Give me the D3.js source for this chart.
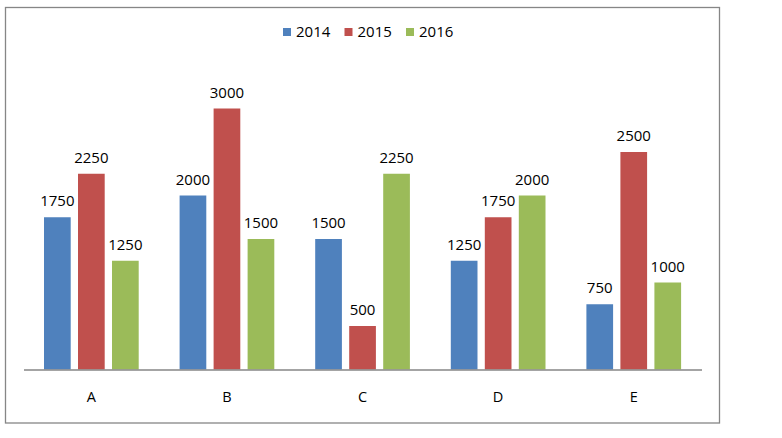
<!DOCTYPE html>
<html>
<head>
<meta charset="utf-8">
<script src="https://cdn.jsdelivr.net/npm/d3@7"></script>
<style>
  html, body { margin: 0; padding: 0; background: #fff; }
  svg { display: block; font-family: "Open Sans", "Liberation Sans", sans-serif; }
</style>
</head>
<body>
<svg id="chart" width="782" height="438"></svg>
<script>
const categories = ["A", "B", "C", "D", "E"];
const series = ["2014", "2015", "2016"];
const values2014 = [1750, 2000, 1500, 1250, 750];
const values2015 = [2250, 3000, 500, 1750, 2500];
const values2016 = [1250, 1500, 2250, 2000, 1000];
const colors = ["#4f81bd", "#c0504d", "#9bbb59"];

const seriesValues = [values2014, values2015, values2016];
const rows = categories.map((c, i) => ({
  cat: c,
  vals: series.map((s, j) => ({ key: s, value: seriesValues[j][i], color: colors[j] })),
}));

const svg = d3.select("#chart");

// outer frame
svg.append("rect")
  .attr("x", 5.5).attr("y", 7.5)
  .attr("width", 714).attr("height", 415.5)
  .attr("fill", "none")
  .attr("stroke", "#868686")
  .attr("stroke-width", 1.3);

const x0 = d3.scaleBand().domain(categories).range([23.5, 701.5]).padding(0);
const x1 = d3.scaleBand().domain(series).range([20.5, 115.2]).paddingInner(0.215).paddingOuter(0);
const y = d3.scaleLinear().domain([0, 3000]).range([369.5, 108.5]);

const groups = svg.append("g")
  .selectAll("g")
  .data(rows)
  .join("g")
  .attr("transform", d => `translate(${x0(d.cat)},0)`);

groups.selectAll("rect")
  .data(d => d.vals)
  .join("rect")
  .attr("x", d => x1(d.key))
  .attr("y", d => y(d.value))
  .attr("width", x1.bandwidth())
  .attr("height", d => y(0) - y(d.value))
  .attr("fill", d => d.color);

groups.selectAll("text.val")
  .data(d => d.vals)
  .join("text")
  .attr("class", "val")
  .attr("x", d => x1(d.key) + x1.bandwidth() / 2)
  .attr("y", d => y(d.value) - 11)
  .attr("text-anchor", "middle")
  .style("font-size", "15px")
  .style("fill", "#000")
  .text(d => d.value);

// baseline axis
const xAxis = d3.axisBottom(x0).tickSize(0).tickPadding(22);
const axisG = svg.append("g")
  .attr("transform", `translate(0,${y(0)})`)
  .call(xAxis);
axisG.select(".domain").attr("stroke", "#868686").attr("stroke-width", 1.3);
axisG.selectAll("text")
  .style("font-family", "\"Open Sans\", \"Liberation Sans\", sans-serif")
  .style("font-size", "14.5px")
  .style("fill", "#000");

// legend
const legend = svg.append("g")
  .selectAll("g")
  .data(series)
  .join("g")
  .attr("transform", (d, i) => `translate(${283 + i * 61.5},0)`);
legend.append("rect")
  .attr("x", 0).attr("y", 28)
  .attr("width", 8).attr("height", 8)
  .attr("fill", (d, i) => colors[i]);
legend.append("text")
  .attr("x", 13).attr("y", 37)
  .style("font-size", "15px")
  .style("fill", "#000")
  .text(d => d);
</script>
</body>
</html>
